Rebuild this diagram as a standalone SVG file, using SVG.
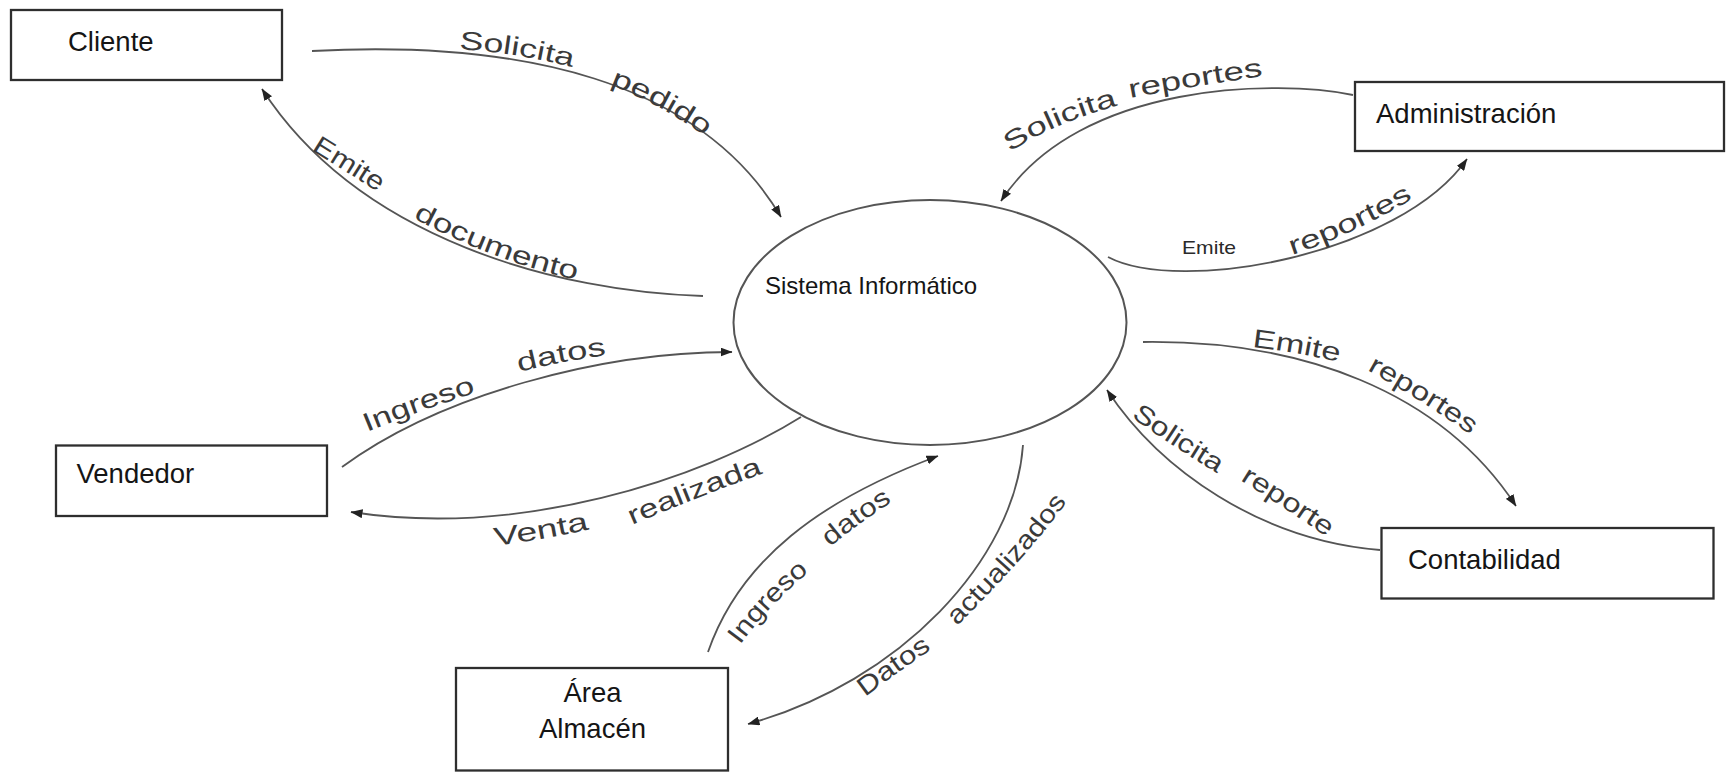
<svg xmlns="http://www.w3.org/2000/svg" width="1726" height="773" viewBox="0 0 1726 773">
  <style>
    .box { fill: #ffffff; stroke: #2e2e2e; stroke-width: 2.3; }
    .node-text { font-family: "Liberation Sans", Arial, sans-serif; font-size: 27.5px; fill: #151515; }
    .core { fill: #ffffff; stroke: #555555; stroke-width: 2; }
    .core-text { font-family: "Liberation Sans", Arial, sans-serif; font-size: 24px; fill: #151515; }
    .flow { fill: none; stroke: #555555; stroke-width: 1.8; marker-end: url(#arrow); }
    .flow-label { font-family: "Liberation Sans", Arial, sans-serif; font-size: 26px; fill: #3a3a3a; }
    .flow-label-small { font-family: "Liberation Sans", Arial, sans-serif; font-size: 18.5px; fill: #2a2a2a; }
  </style>
  <defs>
    <marker id="arrow" markerUnits="userSpaceOnUse" viewBox="0 0 12 9" markerWidth="12" markerHeight="9" refX="11.5" refY="4.5" orient="auto">
      <path d="M0,0 L12,4.5 L0,9 z" fill="#222222"/>
    </marker>
    <!-- baselines for the flow labels, one per word, in reading direction -->
    <path id="t1a" d="M459,49 Q516,53 572,67"/>
    <path id="t1b" d="M610,85 Q658,103 705,136"/>
    <path id="t2a" d="M311,150 Q345,171 378,192"/>
    <path id="t2b" d="M413,218 Q494,261 573,279"/>
    <path id="t3a" d="M1010,152 Q1052,124 1116,106"/>
    <path id="t3b" d="M1130,98 Q1196,86 1263,76"/>
    <path id="t4b" d="M1292,255 Q1350,236 1412,199"/>
    <path id="t5a" d="M367,432 Q418,411 475,393"/>
    <path id="t5b" d="M519,372 Q563,361 607,355"/>
    <path id="t6a" d="M495,546 Q542,540 590,529"/>
    <path id="t6b" d="M632,525 Q697,497 764,473"/>
    <path id="t7a" d="M740,645 Q770,604 809,572"/>
    <path id="t7b" d="M830,547 Q860,522 892,502"/>
    <path id="t8a" d="M865,697 Q898,672 932,649"/>
    <path id="t8b" d="M957,626 Q1022,562 1067,502"/>
    <path id="t9a" d="M1252,347 Q1296,352 1339,362"/>
    <path id="t9b" d="M1367,370 Q1418,398 1468,433"/>
    <path id="t10a" d="M1131,417 Q1172,446 1217,473"/>
    <path id="t10b" d="M1240,480 Q1283,507 1327,537"/>
  </defs>

  <rect width="1726" height="773" fill="#ffffff"/>

  <!-- data flows -->
  <g id="connectors">
    <g id="flow-solicita-pedido">
      <path class="flow" d="M312,51 C520,40 700,80 781,217"/>
      <text class="flow-label"><textPath href="#t1a" textLength="115" lengthAdjust="spacingAndGlyphs">Solicita</textPath></text>
      <text class="flow-label"><textPath href="#t1b" textLength="108" lengthAdjust="spacingAndGlyphs">pedido</textPath></text>
    </g>
    <g id="flow-emite-documento">
      <path class="flow" d="M703,296 C560,292 360,240 262,89"/>
      <text class="flow-label"><textPath href="#t2a" textLength="79" lengthAdjust="spacingAndGlyphs">Emite</textPath></text>
      <text class="flow-label"><textPath href="#t2b" textLength="175" lengthAdjust="spacingAndGlyphs">documento</textPath></text>
    </g>
    <g id="flow-solicita-reportes">
      <path class="flow" d="M1353,95 C1280,80 1080,80 1001,201"/>
      <text class="flow-label"><textPath href="#t3a" textLength="118" lengthAdjust="spacingAndGlyphs">Solicita</textPath></text>
      <text class="flow-label"><textPath href="#t3b" textLength="135" lengthAdjust="spacingAndGlyphs">reportes</textPath></text>
    </g>
    <g id="flow-emite-reportes-admin">
      <path class="flow" d="M1108,257 C1180,295 1400,255 1467,159"/>
      <text class="flow-label-small" x="1182" y="253.5" textLength="54" lengthAdjust="spacingAndGlyphs">Emite</text>
      <text class="flow-label"><textPath href="#t4b" textLength="134" lengthAdjust="spacingAndGlyphs">reportes</textPath></text>
    </g>
    <g id="flow-ingreso-datos-vendedor">
      <path class="flow" d="M342,467 C440,395 600,352 732,352"/>
      <text class="flow-label"><textPath href="#t5a" textLength="116" lengthAdjust="spacingAndGlyphs">Ingreso</textPath></text>
      <text class="flow-label"><textPath href="#t5b" textLength="89" lengthAdjust="spacingAndGlyphs">datos</textPath></text>
    </g>
    <g id="flow-venta-realizada">
      <path class="flow" d="M801,417 C700,480 520,538 351,512"/>
      <text class="flow-label"><textPath href="#t6a" textLength="96" lengthAdjust="spacingAndGlyphs">Venta</textPath></text>
      <text class="flow-label"><textPath href="#t6b" textLength="141" lengthAdjust="spacingAndGlyphs">realizada</textPath></text>
    </g>
    <g id="flow-ingreso-datos-almacen">
      <path class="flow" d="M708,652 C740,560 820,500 938,456"/>
      <text class="flow-label"><textPath href="#t7a" textLength="101" lengthAdjust="spacingAndGlyphs">Ingreso</textPath></text>
      <text class="flow-label"><textPath href="#t7b" textLength="77" lengthAdjust="spacingAndGlyphs">datos</textPath></text>
    </g>
    <g id="flow-datos-actualizados">
      <path class="flow" d="M1023,445 C1015,560 900,682 748,724"/>
      <text class="flow-label"><textPath href="#t8a" textLength="82" lengthAdjust="spacingAndGlyphs">Datos</textPath></text>
      <text class="flow-label"><textPath href="#t8b" textLength="166" lengthAdjust="spacingAndGlyphs">actualizados</textPath></text>
    </g>
    <g id="flow-emite-reportes-contab">
      <path class="flow" d="M1143,342 C1300,340 1440,390 1516,506"/>
      <text class="flow-label"><textPath href="#t9a" textLength="88" lengthAdjust="spacingAndGlyphs">Emite</textPath></text>
      <text class="flow-label"><textPath href="#t9b" textLength="122" lengthAdjust="spacingAndGlyphs">reportes</textPath></text>
    </g>
    <g id="flow-solicita-reporte">
      <path class="flow" d="M1380,550 C1260,540 1160,470 1107,390"/>
      <text class="flow-label"><textPath href="#t10a" textLength="103" lengthAdjust="spacingAndGlyphs">Solicita</textPath></text>
      <text class="flow-label"><textPath href="#t10b" textLength="104" lengthAdjust="spacingAndGlyphs">reporte</textPath></text>
    </g>
  </g>

  <!-- central process -->
  <g id="sistema-informatico">
    <ellipse class="core" cx="930" cy="322.5" rx="196.5" ry="122.5"/>
    <text class="core-text" x="765" y="294">Sistema Informático</text>
  </g>

  <!-- external entities -->
  <g id="cliente">
    <rect class="box" x="11" y="10" width="271" height="70"/>
    <text class="node-text" x="68" y="51">Cliente</text>
  </g>
  <g id="administracion">
    <rect class="box" x="1355" y="82" width="369" height="69"/>
    <text class="node-text" x="1376" y="123">Administración</text>
  </g>
  <g id="vendedor">
    <rect class="box" x="56" y="445.5" width="271" height="70.5"/>
    <text class="node-text" x="76.5" y="483">Vendedor</text>
  </g>
  <g id="area-almacen">
    <rect class="box" x="456" y="668" width="272" height="102.5"/>
    <text class="node-text" x="592.5" y="702" text-anchor="middle">Área</text>
    <text class="node-text" x="592.5" y="737.5" text-anchor="middle">Almacén</text>
  </g>
  <g id="contabilidad">
    <rect class="box" x="1381.5" y="528" width="332" height="70.5"/>
    <text class="node-text" x="1408" y="568.5">Contabilidad</text>
  </g>
</svg>
